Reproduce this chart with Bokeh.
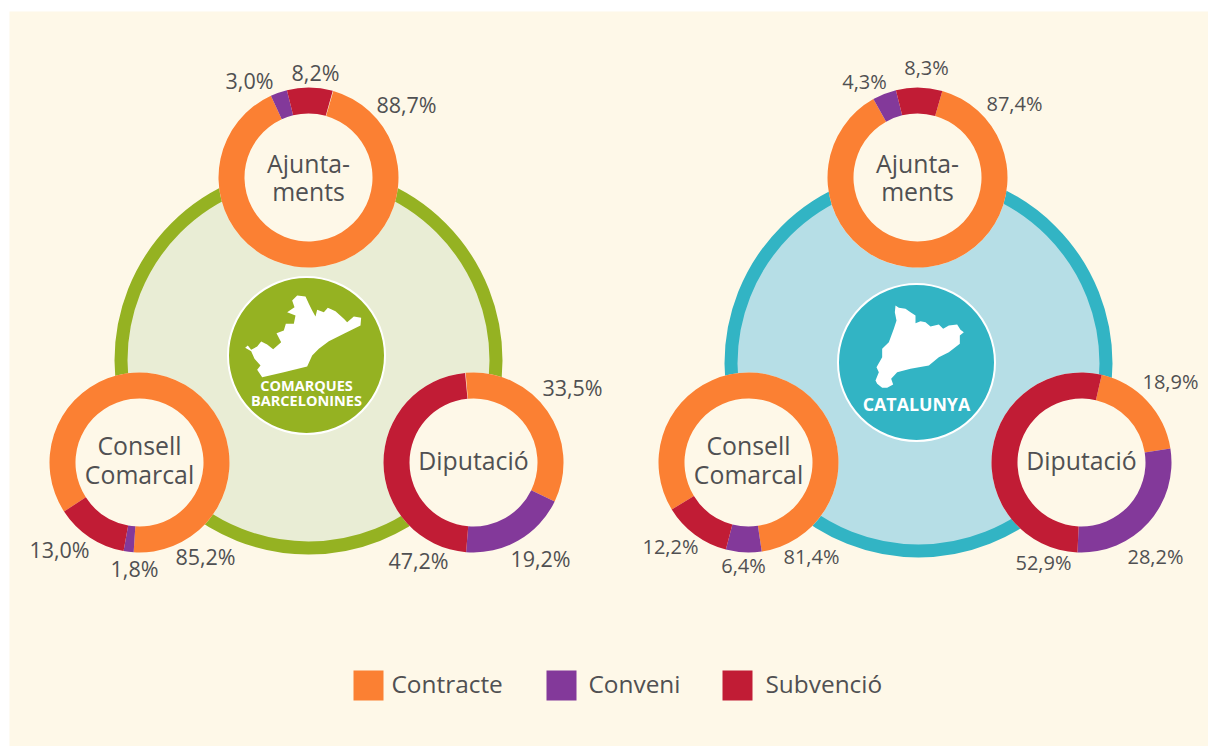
from math import radians
from bokeh.plotting import figure
from bokeh.embed import file_html
from bokeh.resources import INLINE
from bokeh.core.properties import value

# ---- data ----
series = ["Contracte", "Conveni", "Subvenció"]
barcelona_ajuntaments = [88.7, 3.0, 8.2]
barcelona_consell = [85.2, 1.8, 13.0]
barcelona_diputacio = [33.5, 19.2, 47.2]
catalunya_ajuntaments = [87.4, 4.3, 8.3]
catalunya_consell = [81.4, 6.4, 12.2]
catalunya_diputacio = [18.9, 28.2, 52.9]
labels_ajuntaments = ["Ajunta-", "ments"]
labels_consell = ["Consell", "Comarcal"]
labels_diputacio = ["Diputació"]

# ---- styling ----
FONT = value("Open Sans")
INK = "#505052"
BG = "#fef8e8"
COLORS = ["#fb8033", "#83399a", "#c11c35"]

W, H = 1208, 746
p = figure(width=W, height=H, x_range=(0, W), y_range=(H, 0),
           toolbar_location=None, output_backend="svg", min_border=0,
           outline_line_color=None, border_fill_color="white", background_fill_color="white")
p.axis.visible = False
p.grid.visible = False
p.xaxis.visible = False
p.yaxis.visible = False

# panel
p.quad(left=[9], right=[1300], top=[11], bottom=[800], fill_color=BG, line_color=None)


def txt(x, y, s, size, color=INK, align="center", style="normal"):
    p.text([x], [y - 2], text=[s], text_font=FONT, text_font_size=f"{size}px", text_color=color,
           text_align=align, text_baseline="middle", text_font_style=style)


def fmt(v):
    return f"{v:.1f}".replace(".", ",") + "%"


def donut(cx, cy, values, start, name_lines, name_ys, label_pos, size):
    p.circle([cx], [cy], radius=90, fill_color=BG, line_color=None)
    a = start
    for v, c in zip(values, COLORS):
        b = a + v * 3.6
        p.annular_wedge([cx], [cy], inner_radius=64, outer_radius=90,
                        start_angle=radians(90 - b), end_angle=radians(90 - a),
                        direction="anticlock", fill_color=c, line_color=None)
        a = b
    for line, y in zip(name_lines, name_ys):
        txt(cx, y, line, 24.8)
    for v, (lx, ly) in zip(values, label_pos):
        txt(lx, ly, fmt(v), size)


def hub(cx, cy, light, strong, bcx, bcy, outline, names):
    p.circle([cx], [cy], radius=187.5, fill_color=light, line_color=strong, line_width=13)
    p.circle([bcx], [bcy], radius=78.5, fill_color=strong, line_color="white", line_width=2)
    xs = [bx for bx, _ in outline]
    ys = [by for _, by in outline]
    p.patch(xs, ys, fill_color="white", line_color=None)
    for s, y, size in names:
        txt(bcx, y, s, size, color="white", style="bold")


# silhouettes of the two territories (outline only, page pixels)
map_bcn = [(z[0] / 3 + 240, z[1] / 3 + 290) for z in [
    (14, 172), (22, 165), (32, 178), (50, 168), (62, 153), (80, 162), (98, 176), (122, 155),
    (108, 128), (130, 120), (136, 100), (160, 100), (165, 75), (140, 65), (162, 50), (155, 30),
    (170, 15), (195, 18), (205, 40), (215, 60), (225, 78), (230, 58), (250, 65), (262, 52),
    (285, 62), (310, 85), (320, 95), (340, 78), (362, 82), (360, 105), (310, 130), (265, 152),
    (235, 175), (215, 195), (200, 228), (130, 245), (65, 260), (50, 238), (60, 225), (42, 205),
    (32, 182)]]
map_cat = [(z[0] / 3 + 870, z[1] / 3 + 300) for z in [
    (75, 15), (85, 22), (105, 25), (120, 35), (135, 45), (135, 68), (150, 62), (165, 65),
    (180, 78), (205, 72), (218, 85), (235, 75), (260, 72), (270, 88), (280, 95), (268, 105),
    (268, 130), (235, 155), (205, 170), (175, 195), (120, 205), (80, 215), (62, 235), (68, 252),
    (50, 262), (35, 262), (20, 250), (15, 240), (25, 215), (18, 200), (35, 170), (35, 145),
    (55, 125), (70, 85), (78, 60), (73, 35)]]

hub(308, 360, "#e9edd5", "#95b222", 306, 355, map_bcn,
    [("COMARQUES", 387, 14.5), ("BARCELONINES", 402, 14.5)])
hub(918, 363, "#b6dee6", "#32b4c4", 916, 362, map_cat, [("CATALUNYA", 405, 17.8)])

donut(308, 177, barcelona_ajuntaments, 16, labels_ajuntaments, [164, 192],
      [(406, 106), (249, 82), (315, 74)], 21.5)
donut(139, 462, barcelona_consell, 237, labels_consell, [446, 475],
      [(205, 558), (134, 570), (59, 551)], 21.5)
donut(473, 462, barcelona_diputacio, -5, labels_diputacio, [461],
      [(572, 389), (540, 560), (418, 562)], 21.5)

donut(917, 177, catalunya_ajuntaments, 16, labels_ajuntaments, [164, 192],
      [(1014, 105), (864, 83), (926, 69)], 20)
donut(748, 462, catalunya_consell, 238.5, labels_consell, [446, 475],
      [(811, 558), (743, 567), (670, 548)], 20)
donut(1081, 462, catalunya_diputacio, 13, labels_diputacio, [461],
      [(1170, 383), (1155, 558), (1043, 564)], 20)

# legend
for name, c, sq, tx in zip(series, COLORS, [368, 561, 737], [391, 588, 765]):
    p.rect([sq], [685], width=30, height=30, fill_color=c, line_color=None)
    txt(tx, 685, name, 24.4, align="left")

open("out.html", "w").write(file_html(p, INLINE))
